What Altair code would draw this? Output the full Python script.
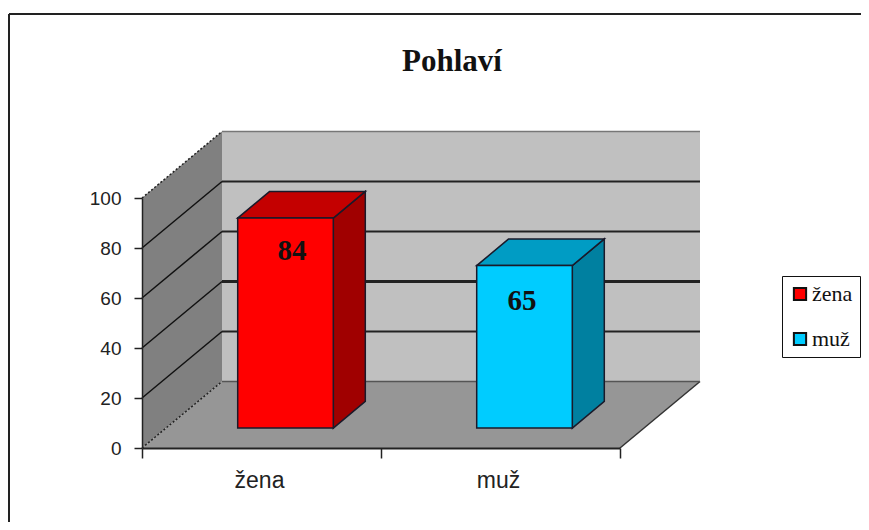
import altair as alt
import pandas as pd

CATEGORIES = ["žena", "muž"]
VALUES = [84, 65]
FRONT = ["#FF0000", "#00CCFF"]
TOP = ["#C40000", "#009CC4"]
SIDE = ["#A00000", "#0080A0"]
GRID = [20, 40, 60, 80]
GRID_W = [2, 3, 2, 2]
TICKS = [0, 20, 40, 60, 80, 100]
LABEL_DEPTH = [0.38, 0.27]
LABEL_DROP = [38, 33]

DX = 80 / 239      # shift of the depth axis, in category units
DY = 66.5 / 2.5    # shift of the depth axis, in value units
B0, B1 = 0.3, 0.7  # bar extent across and along depth
YMAX = 100
XMAX = len(CATEGORIES)

xs = alt.Scale(domain=[0, XMAX], nice=False, zero=False)
ys = alt.Scale(domain=[0, YMAX], nice=False, zero=False)
x_axis = alt.Axis(values=list(range(XMAX + 1)), labels=False, grid=False, tickSize=10, tickColor="#222222",
                  tickWidth=1.5, domainColor="#222222", domainWidth=2, zindex=1, title=None)
y_axis = alt.Axis(values=TICKS, grid=False, tickSize=8, tickColor="#222222", tickWidth=1.5,
                  domainColor="#222222", domainWidth=1.5, labelFont="Liberation Sans", labelFontSize=19,
                  labelColor="#222222", labelPadding=13, zindex=1, title=None)
X = alt.X("x:Q", scale=xs, axis=x_axis, title=None)
Y = alt.Y("y:Q", scale=ys, axis=y_axis, title=None)
X2 = alt.X2("x2:Q")
Y2 = alt.Y2("y2:Q")


def df(rows):
    return alt.Data(values=rows)


# walls and floor
left_wall = alt.Chart(df([
    {"x": 0, "y": 0, "y2": YMAX},
    {"x": DX, "y": DY, "y2": YMAX + DY},
])).mark_area(color="#808080").encode(x=X, y=Y, y2=Y2)
back_wall = alt.Chart(df([
    {"x": DX, "y": DY, "y2": YMAX + DY},
    {"x": XMAX + DX, "y": DY, "y2": YMAX + DY},
])).mark_area(color="#C0C0C0").encode(x=X, y=Y, y2=Y2)
floor = alt.Chart(df([
    {"y": 0, "x": 0, "x2": XMAX},
    {"y": DY, "x": DX, "x2": XMAX + DX},
])).mark_area(color="#969696", orient="horizontal").encode(x=X, x2=X2, y=Y)

layers = [left_wall, back_wall, floor]


def rule(x, x2, y, y2, color, width, **kw):
    return alt.Chart(df([{"x": x, "x2": x2, "y": y, "y2": y2}])).mark_rule(
        color=color, strokeWidth=width, **kw).encode(x=X, x2=X2, y=Y, y2=Y2)


# grid lines on both walls, wall and floor edges
for v, w in zip(GRID, GRID_W):
    layers.append(rule(DX, XMAX + DX, v + DY, v + DY, "#222222", w))
    layers.append(rule(0, DX, v, v + DY, "#111111", 1.5))
layers.append(rule(0, DX, 0, DY, "#222222", 1.5, strokeDash=[2, 2]))
layers.append(rule(0, DX, YMAX, YMAX + DY, "#222222", 1.5, strokeDash=[2, 2]))
layers.append(rule(XMAX, XMAX + DX, 0, DY, "#333333", 1.5))
layers.append(rule(DX, XMAX + DX, DY, DY, "#555555", 1.5))
layers.append(rule(DX, XMAX + DX, YMAX + DY, YMAX + DY, "#777777", 1.5))

# bars
BAR_STROKE = "#1a1a2a"
front_rows, value_layers = [], []
for i, (cat, val) in enumerate(zip(CATEGORIES, VALUES)):
    xa, xb = i + B0 + B0 * DX, i + B1 + B0 * DX
    xc, xd = i + B0 + B1 * DX, i + B1 + B1 * DX
    y0, y1 = B0 * DY, B1 * DY
    front_rows.append({"x": xa, "x2": xb, "y": y0, "y2": val + y0, "cat": cat})
    layers.append(alt.Chart(df([
        {"x": xb, "y": y0, "y2": val + y0},
        {"x": xd, "y": y1, "y2": val + y1},
    ])).mark_area(color=SIDE[i], stroke=BAR_STROKE, strokeWidth=1.5).encode(x=X, y=Y, y2=Y2))
    layers.append(alt.Chart(df([
        {"y": val + y0, "x": xa, "x2": xb},
        {"y": val + y1, "x": xc, "x2": xd},
    ])).mark_area(color=TOP[i], stroke=BAR_STROKE, strokeWidth=1.5, orient="horizontal").encode(
        x=X, x2=X2, y=Y))
    value_layers.append(alt.Chart(df([
        {"x": i + 0.5 + LABEL_DEPTH[i] * DX, "y": val + LABEL_DEPTH[i] * DY, "t": str(val)}
    ])).mark_text(font="Liberation Serif", fontWeight="bold", fontSize=29, color="#111111",
                  dy=LABEL_DROP[i], baseline="middle").encode(x=X, y=Y, text="t:N"))

fronts = alt.Chart(df(front_rows)).mark_bar(stroke=BAR_STROKE, strokeWidth=1.5).encode(
    x=X, x2=X2, y=Y, y2=Y2,
    color=alt.Color("cat:N", scale=alt.Scale(domain=CATEGORIES, range=FRONT), title=None,
                    legend=alt.Legend(orient="none", legendX=640, legendY=78, symbolType="square",
                                      symbolSize=150, symbolStrokeColor="#111111", symbolStrokeWidth=2,
                                      labelFont="Liberation Serif", labelFontSize=22, labelColor="#111111",
                                      labelOffset=1, rowPadding=23, padding=7, strokeColor="#111111",
                                      fillColor="white", values=CATEGORIES)),
)
layers.append(fronts)
layers += value_layers

cat_labels = alt.Chart(df([
    {"x": i + 0.5, "y": 0, "t": c} for i, c in enumerate(CATEGORIES)
])).mark_text(font="Liberation Sans", fontSize=23, color="#222222", dx=-2, dy=33, baseline="middle").encode(
    x=X, y=Y, text="t:N")
layers.append(cat_labels)

# frame of the picture: top and left edges only
frame = alt.Chart(df([{"k": 1}])).mark_rule(color="#222222", strokeWidth=2).encode(
    x=alt.value(-133), x2=alt.value(719), y=alt.value(-184))
frame2 = alt.Chart(df([{"k": 1}])).mark_rule(color="#222222", strokeWidth=2).encode(
    x=alt.value(-133), y=alt.value(-184), y2=alt.value(324))
layers += [frame, frame2]

chart = alt.layer(*layers).properties(
    width=478, height=250,
    title=alt.TitleParams("Pohlaví", font="Liberation Serif", fontWeight="bold", fontSize=31,
                          color="#111111", anchor="middle", dx=71, offset=-65),
    padding={"left": 134, "top": 190, "right": 241, "bottom": 74},
    autosize=alt.AutoSizeParams(type="none"),
    background="white",
).configure_view(stroke=None)

chart.save("out.html", embed_options={"renderer": "svg", "actions": False})
